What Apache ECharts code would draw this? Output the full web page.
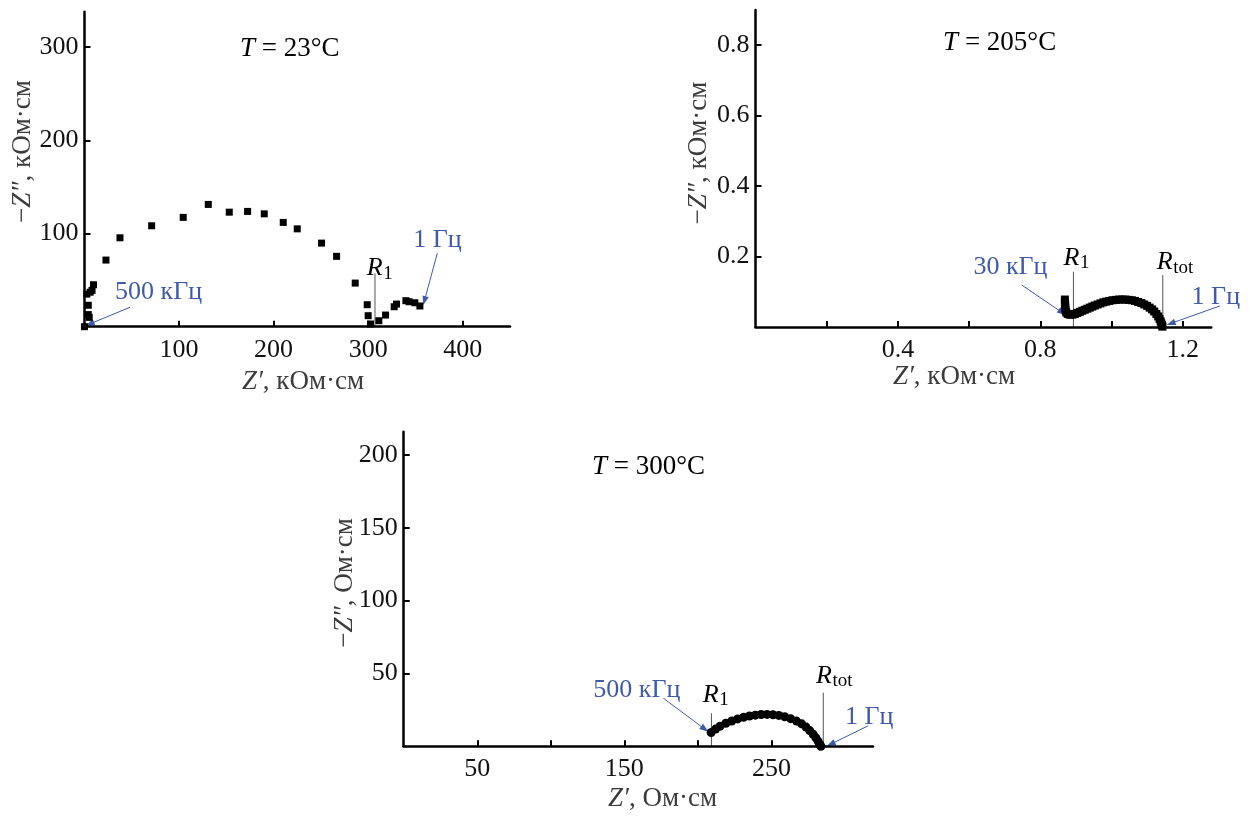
<!DOCTYPE html>
<html>
<head>
<meta charset="utf-8">
<title>Годографы импеданса</title>
<script src="https://cdn.jsdelivr.net/npm/echarts@6/dist/echarts.min.js"></script>
<style>
  html, body { margin: 0; padding: 0; background: #fff; }
  #chart { width: 1249px; height: 816px; }
</style>
</head>
<body>
<div id="chart"></div>
<script>
const FONT = '"Liberation Serif", "Times New Roman", serif';
const BLUE = '#3f5aa8';

// T = 23 °C, кОм·см  [Z', -Z'']
const z23 = [
  [0, 0], [5, 10], [4, 13], [4, 23], [2.5, 35], [6, 37], [8, 39], [9.5, 45],
  [22.7, 71.5], [37.5, 95.4], [71, 108.3], [104.4, 117.3], [130.9, 131.2],
  [153.1, 122.9], [172.5, 123.7], [190.1, 121.1], [210.2, 111.9], [225, 105],
  [250.7, 89.7], [266.6, 75.5], [286.3, 46.8], [299, 23.6], [300, 11.8],
  [302.5, 2.9], [311.3, 6.4], [318.4, 12.5], [327.5, 21.4], [330, 24.3],
  [339.9, 27.9], [343.3, 26.8], [349.4, 25.7], [354.7, 22.2]
];

// T = 205 °C, кОм·см
const z205 = [
  [0.869, 0.078], [0.869, 0.070], [0.870, 0.062], [0.870, 0.054], [0.871, 0.047],
  [0.873, 0.041], [0.877, 0.037], [0.883, 0.035], [0.890, 0.035], [0.897, 0.037],
  [0.904, 0.040], [0.911, 0.043], [0.918, 0.046], [0.925, 0.049], [0.932, 0.052],
  [0.939, 0.055], [0.946, 0.058], [0.953, 0.061], [0.961, 0.064], [0.969, 0.067],
  [0.977, 0.070], [0.985, 0.072], [0.994, 0.074], [1.003, 0.076], [1.012, 0.077],
  [1.021, 0.078], [1.030, 0.078], [1.039, 0.078], [1.048, 0.077], [1.057, 0.076],
  [1.066, 0.074], [1.075, 0.071], [1.084, 0.068], [1.092, 0.064], [1.100, 0.060],
  [1.107, 0.055], [1.114, 0.050], [1.120, 0.044], [1.126, 0.037], [1.131, 0.030],
  [1.135, 0.023], [1.138, 0.016], [1.140, 0.010], [1.142, 0.005], [1.143, 0.001]
];

// T = 300 °C, Ом·см
const z300 = [
  [209, 9.5], [212, 11.8], [215, 13.8], [219, 15.8], [223, 17.4], [227, 18.8],
  [231, 19.9], [235, 20.8], [239, 21.4], [243, 21.8], [247, 21.9], [251, 21.7],
  [255, 21.2], [259, 20.3], [263, 19.0], [267, 17.3], [270.5, 15.4], [273.5, 13.2],
  [276, 10.8], [278.3, 8.3], [280.2, 5.8], [281.7, 3.4], [282.8, 1.3], [283.6, 0]
];

const ticks23X = [100, 200, 300, 400];
const ticks23Y = [100, 200, 300];
const ticks205X = [0.2, 0.4, 0.6, 0.8, 1.0, 1.2];
const labels205X = [0.4, 0.8, 1.2];
const ticks205Y = [0.2, 0.4, 0.6, 0.8];
const ticks300X = [50, 100, 150, 200, 250];
const labels300X = [50, 150, 250];
const ticks300Y = [50, 100, 150, 200];

const titles = ['23°C', '205°C', '300°C'];
const freqNotes = [
  ['500 кГц', '1 Гц'],
  ['30 кГц', '1 Гц'],
  ['500 кГц', '1 Гц']
];
const resistances = [[307.2], [0.893, 1.144], [209.2, 285.2]];
const resistanceSubs = [['1'], ['1', 'tot'], ['1', 'tot']];

const chart = echarts.init(document.getElementById('chart'));

function axis(gridIndex, max, tickValues, labelValues, isX, digits) {
  return {
    type: 'value',
    gridIndex,
    min: 0,
    max,
    axisLine: { show: true, onZero: false, lineStyle: { color: '#000', width: 2.5 } },
    axisTick: {
      show: true, inside: true, length: 6, customValues: tickValues,
      lineStyle: { color: '#000', width: 2 }
    },
    axisLabel: {
      customValues: labelValues,
      margin: isX ? 10 : 6,
      fontFamily: FONT,
      fontSize: 26,
      color: '#111',
      formatter: (v) => digits ? Number(v).toFixed(digits) : String(v)
    },
    splitLine: { show: false }
  };
}

function scatter(i, data, symbol, size) {
  return {
    type: 'scatter',
    xAxisIndex: i,
    yAxisIndex: i,
    data,
    symbol,
    symbolSize: size,
    clip: false,
    silent: true,
    itemStyle: { color: '#000', opacity: 1 }
  };
}

chart.setOption({
  animation: false,
  grid: [
    { left: 84.5, top: 11.7, width: 425.5, height: 315, outerBoundsMode: 'none' },
    { left: 755.5, top: 10, width: 455.7, height: 317, outerBoundsMode: 'none' },
    { left: 403.7, top: 431.7, width: 469.3, height: 314.6, outerBoundsMode: 'none' }
  ],
  xAxis: [
    axis(0, 450, ticks23X, ticks23X, true, 0),
    axis(1, 1.28, ticks205X, labels205X, true, 1),
    axis(2, 319, ticks300X, labels300X, true, 0)
  ],
  yAxis: [
    axis(0, 338, ticks23Y, ticks23Y, false, 0),
    axis(1, 0.9, ticks205Y, ticks205Y, false, 1),
    axis(2, 216, ticks300Y, ticks300Y, false, 0)
  ],
  series: [
    scatter(0, z23, 'rect', 7),
    scatter(1, z205, 'rect', 8),
    scatter(2, z300, 'circle', 9)
  ]
});

// annotation placement in data units of each panel
const layout = [
  {
    title: [164.4, 297.9],
    notes: [[32.3, 37.4], [347.7, 92.9]],
    arrows: [[[48.1, 20.8], [1.3, 1.2]], [[373.1, 78.8], [358.3, 23.3]]],
    lineTops: [57.3],
    rLabels: [[298.4, 62.4]]
  },
  {
    title: [0.527, 0.806],
    notes: [[0.612, 0.171], [1.225, 0.086]],
    arrows: [[[0.748, 0.119], [0.872, 0.034]], [[1.305, 0.060], [1.155, 0.006]]],
    lineTops: [0.157, 0.148],
    rLabels: [[0.865, 0.196], [1.127, 0.183]]
  },
  {
    title: [128, 191.8],
    notes: [[128.9, 38.6], [300, 20.3]],
    arrows: [[[176.5, 33], [207.1, 10]], [[315.8, 14.1], [287.6, 0.2]]],
    lineTops: [22.7, 36.8],
    rLabels: [[203.2, 35.2], [280.3, 48.3]]
  }
];

function toPx(i, p) {
  return chart.convertToPixel({ gridIndex: i }, p);
}

function text(x, y, str, size, color, italic) {
  return {
    type: 'text', x, y, silent: true,
    style: {
      text: str, fontFamily: FONT, fontSize: size, fill: color,
      fontStyle: italic ? 'italic' : 'normal',
      align: 'left', verticalAlign: 'middle'
    }
  };
}

function richText(x, y, str, size, color, rotation) {
  const base = { fontFamily: FONT, fontSize: size, fill: color };
  return {
    type: 'text', x, y, rotation: rotation || 0, silent: true,
    style: {
      text: str, fontFamily: FONT, fontSize: size, fill: color,
      align: 'center', verticalAlign: 'middle',
      rich: { i: Object.assign({ fontStyle: 'italic' }, base), n: base }
    }
  };
}

function arrow(a, b) {
  const dx = b[0] - a[0];
  const dy = b[1] - a[1];
  const len = Math.hypot(dx, dy);
  const ux = dx / len;
  const uy = dy / len;
  const L = 9;
  const W = 3.2;
  const bx = b[0] - ux * L;
  const by = b[1] - uy * L;
  return [
    {
      type: 'line', silent: true,
      shape: { x1: a[0], y1: a[1], x2: bx + ux * 2, y2: by + uy * 2 },
      style: { stroke: BLUE, lineWidth: 1 }
    },
    {
      type: 'polygon', silent: true,
      shape: { points: [b, [bx - uy * W, by + ux * W], [bx + uy * W, by - ux * W]] },
      style: { fill: BLUE }
    }
  ];
}

const graphics = [];
layout.forEach((panel, i) => {
  const t = toPx(i, panel.title);
  graphics.push({
    type: 'text', x: t[0], y: t[1], silent: true,
    style: {
      text: '{i|T}{n| = ' + titles[i] + '}', fontFamily: FONT, fontSize: 27, fill: '#000',
      align: 'left', verticalAlign: 'middle',
      rich: {
        i: { fontFamily: FONT, fontSize: 27, fill: '#000', fontStyle: 'italic' },
        n: { fontFamily: FONT, fontSize: 27, fill: '#000' }
      }
    }
  });

  panel.notes.forEach((p, k) => {
    const q = toPx(i, p);
    graphics.push(text(q[0], q[1], freqNotes[i][k], 26, BLUE));
  });

  panel.arrows.forEach((pair) => {
    graphics.push(...arrow(toPx(i, pair[0]), toPx(i, pair[1])));
  });

  resistances[i].forEach((r, k) => {
    const top = toPx(i, [r, panel.lineTops[k]]);
    const bottom = toPx(i, [r, 0]);
    graphics.push({
      type: 'line', silent: true,
      shape: { x1: top[0], y1: top[1], x2: bottom[0], y2: bottom[1] },
      style: { stroke: '#555', lineWidth: 1 }
    });
    const rp = toPx(i, panel.rLabels[k]);
    graphics.push(text(rp[0], rp[1], 'R', 26, '#000', true));
    graphics.push(text(rp[0] + 16.5, rp[1] + 5, resistanceSubs[i][k], 19, '#000'));
  });
});

// axis names
const NAME = '#3c3c3c';
graphics.push(
  richText(303, 382, '{i|Z′}{n|, кОм·см}', 27, NAME),
  richText(954, 376.7, '{i|Z′}{n|, кОм·см}', 27, NAME),
  richText(662.5, 799, '{i|Z′}{n|, Ом·см}', 27, NAME),
  richText(23, 151.5, '{n|−}{i|Z″}{n|, кОм·см}', 27, NAME, Math.PI / 2),
  richText(699, 153, '{n|−}{i|Z″}{n|, кОм·см}', 27, NAME, Math.PI / 2),
  richText(345, 583, '{n|−}{i|Z″}{n|, Ом·см}', 27, NAME, Math.PI / 2)
);

chart.setOption({ graphic: graphics });
</script>
</body>
</html>
